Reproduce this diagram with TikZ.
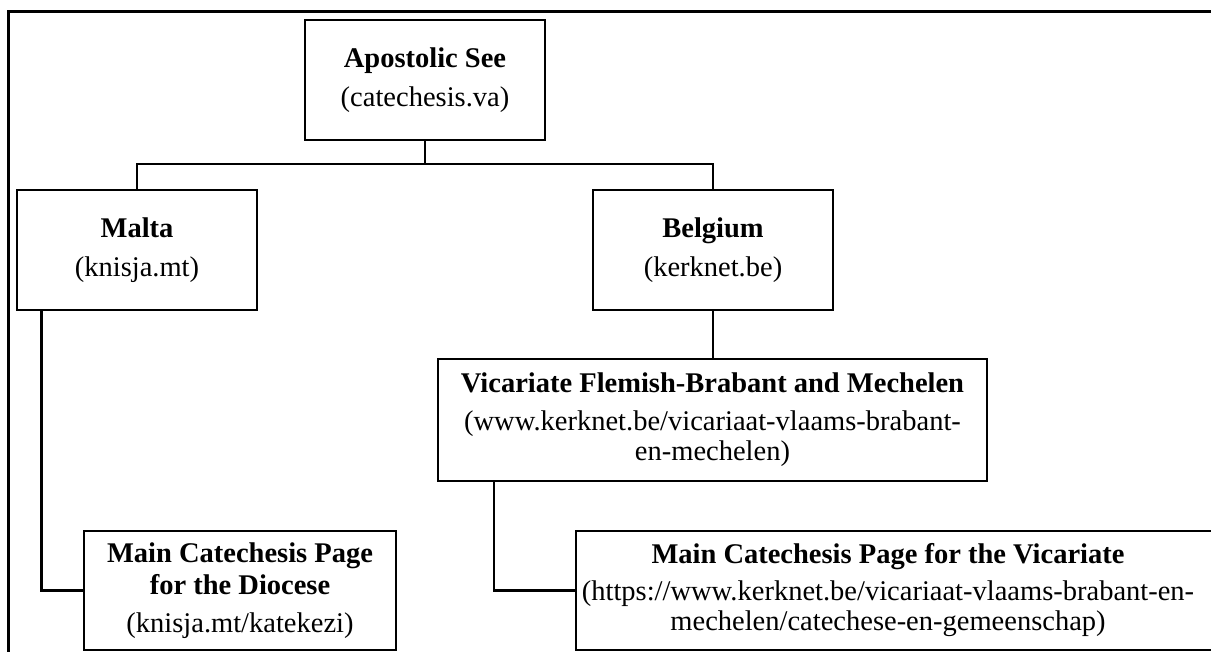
\documentclass[tikz,border=0pt]{standalone}
\usepackage{fontspec}
\setmainfont{Liberation Serif}
\begin{document}
\begin{tikzpicture}[x=1pt,y=-1pt,
  frame/.style={draw=black, line width=2.8pt},
  box/.style={draw=black, line width=2.8pt, fill=white, align=center,
    font=\fontsize{28.5}{30}\selectfont, inner sep=0pt},
  txt/.style={align=center, font=\fontsize{28.5}{30}\selectfont, inner sep=0pt},
  link/.style={draw=black, line width=2.5pt}]
\useasboundingbox (0,0) rectangle (1211,652);
\begin{scope}
\clip (0,0) rectangle (1211,652);
\draw[frame] (8.7,11.7) rectangle (1240,690);
% boxes
\node[box, minimum width=240, minimum height=120] (apost) at (425,80)
  {\textbf{Apostolic See}\\[9pt](catechesis.va)};
\node[box, minimum width=240, minimum height=120] (malta) at (137,250)
  {\textbf{Malta}\\[9pt](knisja.mt)};
\node[box, minimum width=240, minimum height=120] (belg) at (713,250)
  {\textbf{Belgium}\\[9pt](kerknet.be)};
\node[box, minimum width=549, minimum height=122] (vic) at (712.5,420)
  {\textbf{Vicariate Flemish-Brabant and Mechelen}\\[8pt](www.kerknet.be/vicariaat-vlaams-brabant-\\en-mechelen)};
\node[box, minimum width=312, minimum height=119] (dioc) at (240,590.5)
  {\textbf{Main Catechesis Page}\\[2pt]\textbf{for the Diocese}\\[8pt](knisja.mt/katekezi)};
\node[box, minimum width=660, minimum height=119] (mainvic) at (906,590.5) {};
\node[txt] (mainvicT) at (888,590.5)
  {\textbf{Main Catechesis Page for the Vicariate}\\[7pt](https://www.kerknet.be/vicariaat-vlaams-brabant-en-\\mechelen/catechese-en-gemeenschap)};
% connectors
\coordinate (barY) at (0,164);
\coordinate (mline) at (41.7,0);
\coordinate (vline) at (494,0);
\draw[link] (apost.south) -- (apost.south |- barY);
\draw[link] (malta.north) |- (apost.south |- barY) -| (belg.north);
\draw[link] (belg.south) -- (belg.south |- vic.north);
\draw[link] (malta.south -| mline) |- (dioc.west);
\draw[link] (vic.south -| vline) |- (mainvic.west);
\end{scope}
\end{tikzpicture}
\end{document}
